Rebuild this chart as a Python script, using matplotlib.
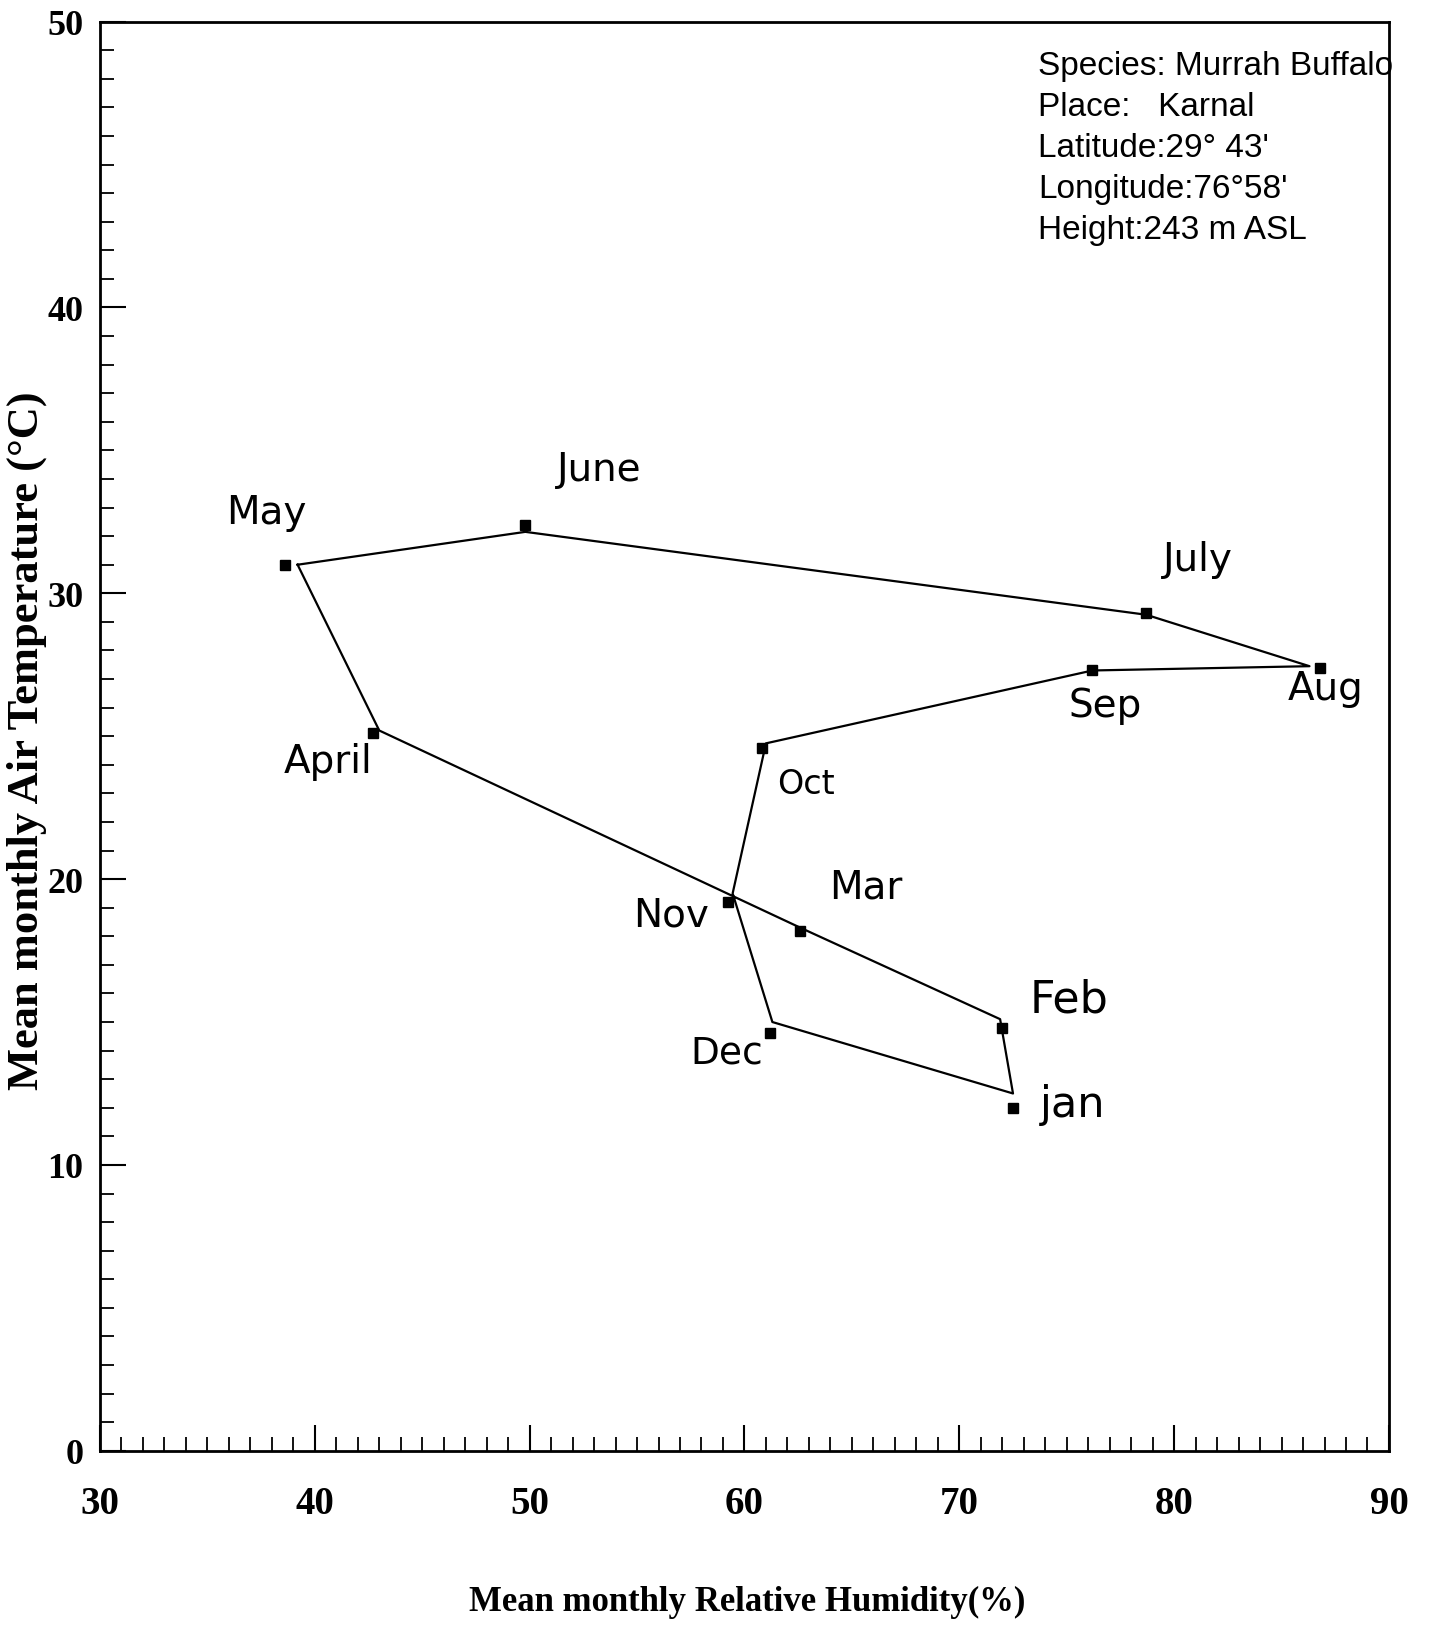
import matplotlib
matplotlib.use("Agg")
import matplotlib.pyplot as plt
from matplotlib.ticker import MultipleLocator

# climograph data
months = ['May', 'June', 'July', 'Aug', 'Sep', 'Oct', 'Nov', 'Dec', 'jan', 'Feb', 'Mar', 'April']
rel_humidity = [38.6, 49.8, 78.7, 86.8, 76.2, 60.8, 59.25, 61.2, 72.5, 72.0, 62.6, 42.7]
air_temp = [31.0, 32.4, 29.3, 27.4, 27.3, 24.6, 19.2, 14.6, 12.0, 14.8, 18.2, 25.1]

# the joining line in the original is drawn a little off the markers
trace_rh = [39.2, 49.8, 78.7, 86.3, 76.2, 61.0, 59.45, 61.3, 72.5, 71.9, 62.6, 43.0, 39.2]
trace_temp = [31.0, 32.15, 29.25, 27.45, 27.3, 24.75, 19.5, 15.0, 12.5, 15.1, 18.3, 25.2, 31.0]

info_lines = ['Species: Murrah Buffalo', 'Place:   Karnal', "Latitude:29\u00b0 43'",
              "Longitude:76\u00b058'", 'Height:243 m ASL']

x_ticks = [30, 40, 50, 60, 70, 80, 90]
y_ticks = [0, 10, 20, 30, 40, 50]

# label placement relative to each marker (points) and font size
label_style = {
    'May': ((-13, 38), 28), 'June': ((53, 40), 28), 'July': ((37, 39), 28),
    'Aug': ((4, -15), 28), 'Sep': ((9, -25), 28), 'Oct': ((32, -26), 24),
    'Nov': ((-41, -9), 28), 'Dec': ((-31, -14), 27), 'jan': ((43, 3), 31),
    'Feb': ((48, 21), 32), 'Mar': ((47, 32), 28), 'April': ((-32, -20), 28),
}

serif = 'Liberation Serif'

fig = plt.figure(figsize=(14.3, 16.31), dpi=100)
ax = fig.add_axes([0.0699, 0.1099, 0.9014, 0.8762])

ax.plot(trace_rh, trace_temp, color='black', lw=1.6, zorder=2)
ax.plot(rel_humidity, air_temp, linestyle='none', marker='s', ms=6.5,
        color='black', zorder=3)

for m, x, y in zip(months, rel_humidity, air_temp):
    (dx, dy), size = label_style[m]
    ax.annotate(m, (x, y), xytext=(dx, dy), textcoords='offset points',
                ha='center', va='center', fontsize=size, family='DejaVu Sans')

for i, line in enumerate(info_lines):
    ax.text(0.7277, 0.9634 - i * 0.0287, line, transform=ax.transAxes,
            ha='left', va='baseline', fontsize=24, family='Liberation Sans')

ax.set_xlim(30, 90)
ax.set_ylim(0, 50)
ax.set_xticks(x_ticks)
ax.set_yticks(y_ticks)
ax.xaxis.set_minor_locator(MultipleLocator(1))
ax.yaxis.set_minor_locator(MultipleLocator(1))
ax.tick_params(which='major', direction='in', length=19, width=1.5, top=False, right=False)
ax.tick_params(which='minor', direction='in', length=10, width=1.3, top=False, right=False)
ax.tick_params(axis='x', which='major', pad=25)
ax.tick_params(axis='y', which='major', pad=12)
for lab in ax.get_xticklabels():
    lab.set_fontfamily(serif)
    lab.set_fontweight('bold')
    lab.set_fontsize(28)
for lab in ax.get_yticklabels():
    lab.set_fontfamily(serif)
    lab.set_fontweight('bold')
    lab.set_fontsize(26)
for s in ax.spines.values():
    s.set_linewidth(2)

fig.text(747 / 1430, 1 - 1602 / 1631, 'Mean monthly Relative Humidity(%)',
         ha='center', va='center', fontsize=25, fontweight='bold', family=serif)
fig.text(27 / 1430, 1 - 741 / 1631, 'Mean monthly Air Temperature (\u00b0C)',
         ha='center', va='center', rotation=90, fontsize=32, fontweight='bold', family=serif)

fig.savefig('out.png', dpi=100)
